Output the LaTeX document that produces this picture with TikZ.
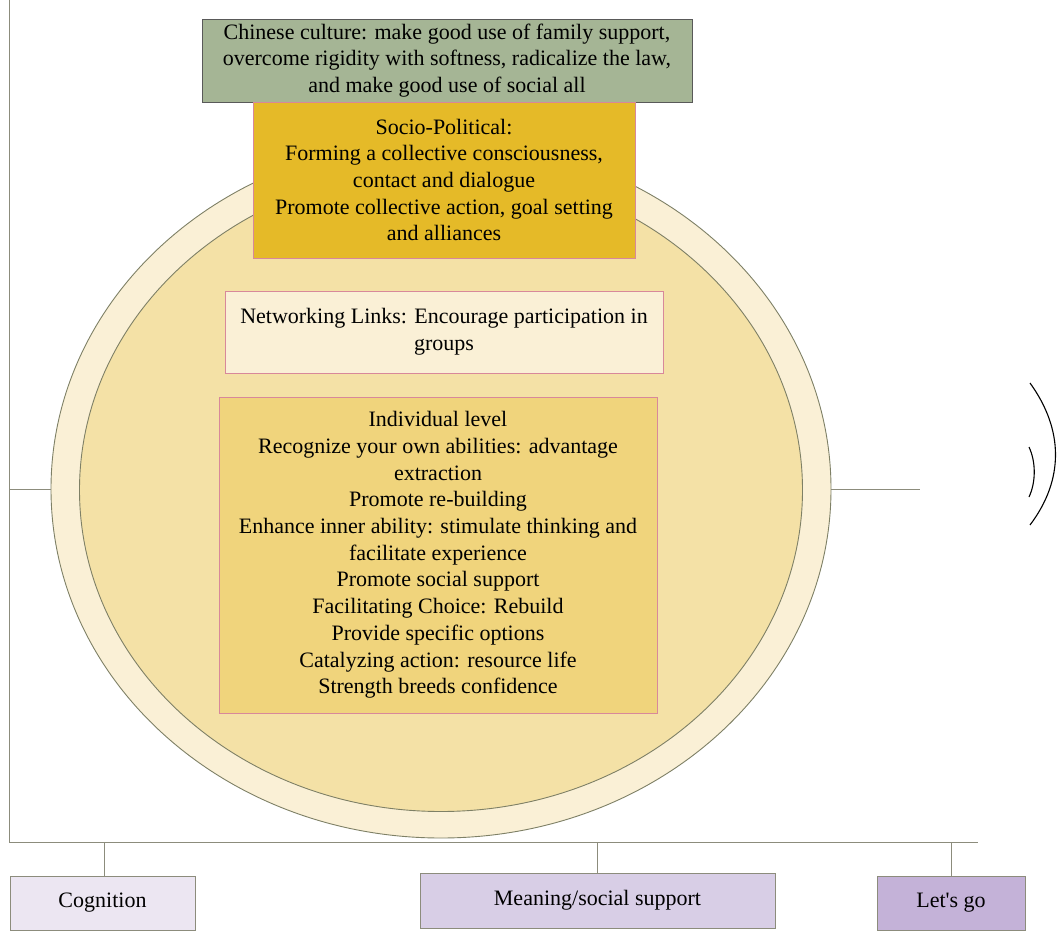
\documentclass[tikz,border=0pt]{standalone}
\usepackage{fontspec}
\setmainfont{Liberation Serif}
\usetikzlibrary{positioning,shapes.geometric}
\definecolor{ringCream}{HTML}{FAF0D6}
\definecolor{ringWheat}{HTML}{F4E1A6}
\definecolor{ringLine}{HTML}{7E8066}
\definecolor{axisGray}{HTML}{8C8C7C}
\definecolor{cultureGreen}{HTML}{A5B595}
\definecolor{socioGold}{HTML}{E5BA28}
\definecolor{netCream}{HTML}{FAF0D6}
\definecolor{indivYellow}{HTML}{F0D47C}
\definecolor{boxPink}{HTML}{D8889A}
\definecolor{cogLilac}{HTML}{ECE6F2}
\definecolor{meanLilac}{HTML}{D8CEE6}
\definecolor{goLilac}{HTML}{C4B2D8}
\tikzset{
  txt/.style={align=center, inner sep=0pt, font=\fontsize{22}{26.7}\selectfont},
  levelbox/.style={txt, draw=boxPink, line width=0.9pt},
  tagbox/.style={txt, draw=axisGray, line width=0.9pt},
  ring/.style={ellipse, draw=ringLine, line width=0.9pt, inner sep=0pt},
  axisline/.style={draw=axisGray, line width=1pt}
}

\begin{document}
\begin{tikzpicture}[x=1pt, y=-1pt]
  %%%%% START %%%%%
  \useasboundingbox (0,0) rectangle (1058,932);

  % axes
  \coordinate (top) at (9,0);
  \coordinate (corner) at (9,842);
  \coordinate (baseEnd) at (978,842);
  \draw[axisline] (top) -- (corner) -- (baseEnd);

  % rings
  \node[ring, fill=ringCream, minimum width=780, minimum height=698] (outer) at (441,489) {};
  \node[ring, fill=ringWheat, minimum width=723, minimum height=643] (inner) at (441,490) {};

  \coordinate (leftEnd) at (outer.west -| corner);
  \coordinate (rightEnd) at (920,0 |- outer.east);
  \draw[axisline] (outer.west) -- (leftEnd);
  \draw[axisline] (outer.east) -- (rightEnd);

  % levels
  \node[tagbox, draw=black!65, fill=cultureGreen, minimum width=490, minimum height=83] (culture) at (447,60.5)
    {Chinese culture: make good use of family support,\\overcome rigidity with softness, radicalize the law,\\and make good use of social all};
  \node[levelbox, fill=socioGold, minimum width=382, minimum height=156] (socio) at (444,180)
    {Socio-Political:\\Forming a collective consciousness,\\contact and dialogue\\Promote collective action, goal setting\\and alliances};
  \node[levelbox, fill=netCream, minimum width=438, minimum height=82] (net) at (444,332)
    {Networking Links: Encourage participation in\\groups};
  \node[levelbox, fill=indivYellow, minimum width=438, minimum height=316] (indiv) at (438,555)
    {Individual level\\Recognize your own abilities: advantage\\extraction\\Promote re-building\\Enhance inner ability: stimulate thinking and\\facilitate experience\\Promote social support\\Facilitating Choice: Rebuild\\Provide specific options\\Catalyzing action: resource life\\Strength breeds confidence};

  % bottom tags
  \node[tagbox, fill=cogLilac, minimum width=185, minimum height=54] (cog) at (102.5,903) {Cognition};
  \node[tagbox, fill=meanLilac, minimum width=355, minimum height=55] (mean) at (597.5,900.5) {Meaning/social support};
  \node[tagbox, fill=goLilac, minimum width=148, minimum height=54] (go) at (951,903) {Let\textquotesingle s go};
  \draw[axisline] ([xshift=1.5]cog.north) -- ([xshift=1.5]cog.north |- corner);
  \draw[axisline] (mean.north) -- (mean.north |- corner);
  \draw[axisline] (go.north) -- (go.north |- corner);

  % brackets on the right
  \draw[line width=1.1pt] (1030,383) .. controls (1064,430) and (1064,480) .. (1030,525);
  \draw[line width=1.1pt] (1029,447) .. controls (1036,462) and (1036,482) .. (1029,497);
  %%%%% END %%%%%
\end{tikzpicture}
\end{document}
